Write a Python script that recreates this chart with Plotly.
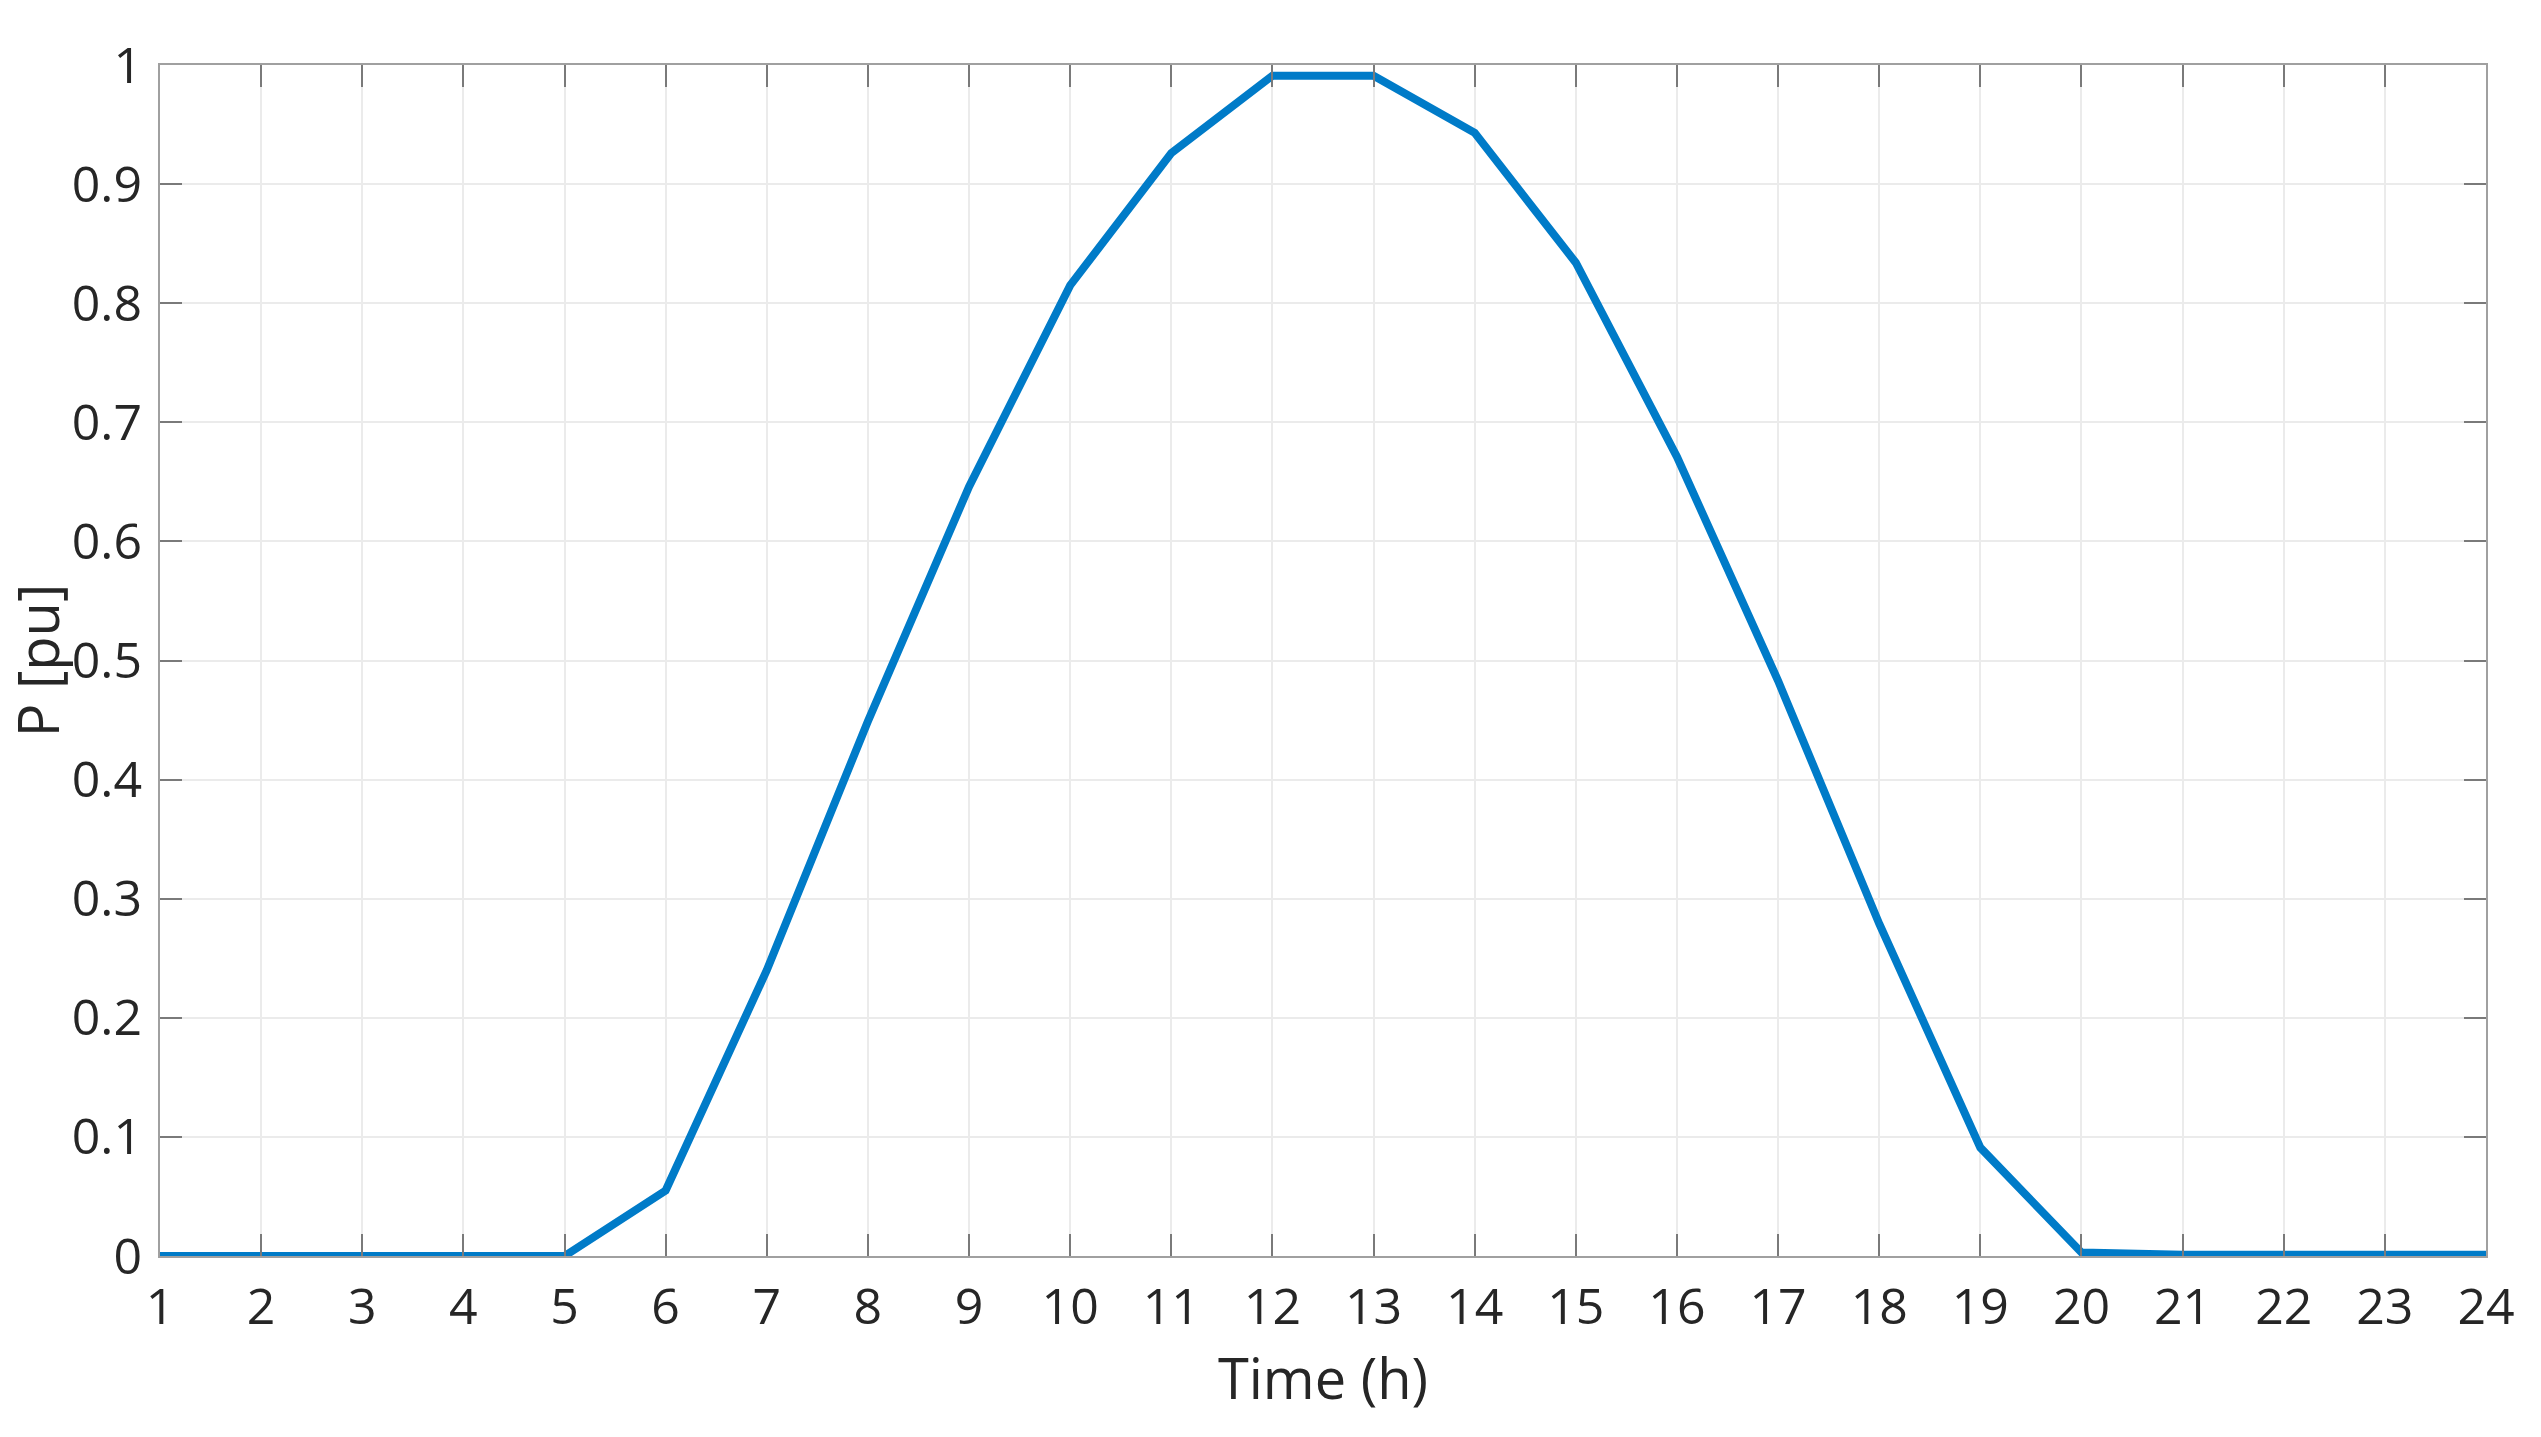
import plotly.graph_objects as go

hours = list(range(1, 25))
power = [0, 0, 0, 0, 0, 0.055, 0.24, 0.449, 0.646, 0.815, 0.926, 0.991, 0.991,
         0.943, 0.834, 0.671, 0.483, 0.279, 0.091, 0.003, 0.001, 0.001, 0.001, 0.001]
x_ticks = list(range(1, 25))
y_ticks = [0, 0.1, 0.2, 0.3, 0.4, 0.5, 0.6, 0.7, 0.8, 0.9, 1]
y_tick_labels = ["0", "0.1", "0.2", "0.3", "0.4", "0.5", "0.6", "0.7", "0.8", "0.9", "1"]

fig = go.Figure()
fig.add_trace(go.Scatter(x=hours, y=power, mode="lines",
                         line=dict(color="#007BC8", width=8),
                         cliponaxis=False, showlegend=False))

tick_font = dict(family="Open Sans", size=50, color="#262626")
title_font = dict(family="Open Sans", size=56, color="#262626")
axis_common = dict(
    showline=True, linecolor="#a0a0a0", linewidth=2,
    mirror="ticks", ticks="inside", ticklen=22, tickwidth=2, tickcolor="#7a7a7a",
    showgrid=True, gridcolor="#ebebeb", gridwidth=2,
    zeroline=False, tickfont=tick_font, automargin=False,
)

fig.update_layout(
    width=2541, height=1437,
    margin=dict(l=152, r=63, t=57, b=189),
    paper_bgcolor="white", plot_bgcolor="white",
    font=tick_font,
    xaxis=dict(range=[1, 24], tickvals=x_ticks, ticktext=[str(v) for v in x_ticks],
               title=dict(text="Time (h)", font=title_font, standoff=5),
               ticklabelstandoff=6, **axis_common),
    yaxis=dict(range=[0, 1], tickvals=y_ticks, ticktext=y_tick_labels,
               ticklabelstandoff=6, **axis_common),
)
fig.add_annotation(text="P [pu]", xref="paper", yref="paper", x=-0.053, y=0.5,
                   xanchor="center", yanchor="middle", textangle=-90,
                   showarrow=False, font=title_font)

fig.write_html("out.html")
